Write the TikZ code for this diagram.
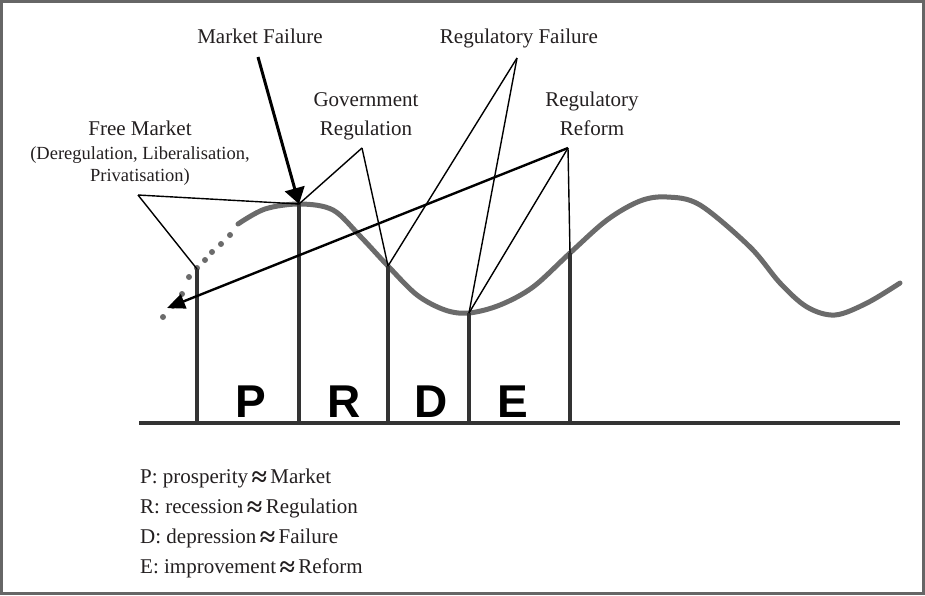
\documentclass[tikz,border=0pt]{standalone}
\usepackage{fontspec}
\setmainfont{Liberation Serif}
\newfontfamily\cyclefont{Liberation Sans}
\usetikzlibrary{arrows.meta}
\definecolor{curvegray}{HTML}{6B6B6B}
\definecolor{bargray}{HTML}{333333}
\definecolor{framegray}{HTML}{666666}
\definecolor{inkblack}{HTML}{231F20}
\newcommand{\approxsign}{\raisebox{-3pt}{\fontsize{28}{28}\selectfont\bfseries ≈}}
\tikzset{
	captext/.style={text=inkblack, inner sep=0pt, anchor=base, align=center, font=\fontsize{21}{29}\selectfont},
	pointer/.style={draw=black, line width=1.4pt},
	phasebar/.style={draw=bargray, line width=3.4pt},
	phaseletter/.style={font=\cyclefont\bfseries\fontsize{46}{46}\selectfont, text=black, inner sep=0pt, anchor=base}
}

\begin{document}
\begin{tikzpicture}[x=1pt,y=-1pt]
	\useasboundingbox (0,0) rectangle (925,595);
	\draw[framegray, line width=2.4pt] (1.5,1.5) rectangle (923.5,593.5);
	
	% points on the cycle
	\coordinate (start) at (197,269);
	\coordinate (peak) at (299,204);
	\coordinate (fall) at (388,266);
	\coordinate (trough) at (469,313);
	\coordinate (rise) at (570,253);
	\coordinate (dotend) at (167,308);
	\coordinate (axisL) at (139,423);
	\coordinate (axisR) at (900,423);
	
	% apexes under the labels
	\coordinate (mfapex) at (258,57);
	\coordinate (fmapex) at (138,195);
	\coordinate (grapex) at (362,148);
	\coordinate (rfapex) at (517,58);
	\coordinate (rrapex) at (568,148);
	
	% business cycle
	\draw[curvegray, line width=5pt, line cap=round] plot[smooth, tension=0.55] coordinates {
		(238,224) (265,209) (300,204) (333,210) (360,236) (388,266) (417,295) (445,310) (469,313)
		(500,305) (533,287) (570,253) (607,220) (640,201) (667,197) (700,205) (750,247) (780,283)
		(807,307) (835,315) (867,303) (900,283)};
	\foreach \x/\y in {230/235, 221/244, 212/252, 205/260, 197/268, 189/277, 182/294, 173/306, 163/317}
		\fill[curvegray] (\x,\y) circle (3pt);
	
	% axis and phase bars
	\draw[bargray, line width=3.6pt] (axisL) -- (axisR);
	\foreach \p in {start,peak,fall,trough,rise}
		\draw[phasebar] (\p) -- (\p |- axisL);
	
	\node[phaseletter] (P) at (251,417) {P};
	\node[phaseletter] (R) at (344,417) {R};
	\node[phaseletter] (D) at (431,417) {D};
	\node[phaseletter] (E) at (513,417) {E};
	
	% labels
	\node[captext] (mfail) at (260,43) {Market Failure};
	\node[captext] (freemkt) at (140,181) {Free Market\\[-5pt]
		\fontsize{18.5}{23}\selectfont (Deregulation, Liberalisation,\\[-7pt]
		\fontsize{18.5}{23}\selectfont Privatisation)};
	\node[captext] (govreg) at (366,135) {Government\\Regulation};
	\node[captext] (regfail) at (519,43) {Regulatory Failure};
	\node[captext] (regref) at (592,135) {Regulatory\\Reform};
	
	% pointers
	\draw[line width=3pt, -{Triangle[length=16pt,width=20pt]}] (mfapex) -- (peak);
	\draw[pointer] (fmapex) -- (peak);
	\draw[pointer] (fmapex) -- (start);
	\draw[pointer] (grapex) -- (peak);
	\draw[pointer] (grapex) -- (fall);
	\draw[pointer] (rfapex) -- (fall);
	\draw[pointer] (rfapex) -- (trough);
	\draw[pointer] (rrapex) -- (trough);
	\draw[pointer] (rrapex) -- (rise);
	\draw[line width=2.4pt, -{Triangle[length=18pt,width=15pt]}] (rrapex) -- (dotend);
	
	% legend
	\node[captext, anchor=base west, align=left, font=\fontsize{21}{30}\selectfont] (legend) at (140,573)
		{P: prosperity\,\approxsign\,Market\\
		 R: recession\,\approxsign\,Regulation\\
		 D: depression\,\approxsign\,Failure\\
		 E: improvement\,\approxsign\,Reform};
\end{tikzpicture}
\end{document}
